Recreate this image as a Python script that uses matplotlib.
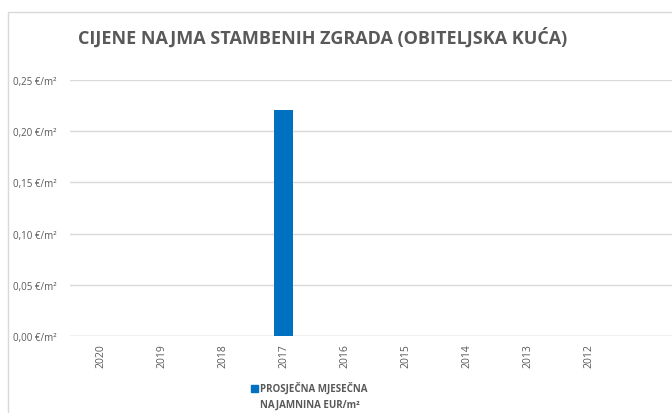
import matplotlib.pyplot as plt
from matplotlib.patches import Rectangle
import numpy as np

# data
years = ['2020', '2019', '2018', '2017', '2016', '2015', '2014', '2013', '2012', '']
rent = [0, 0, 0, 0.221, 0, 0, 0, 0, 0, 0]
yticks = [0, 0.05, 0.10, 0.15, 0.20, 0.25]
series_name = ['PROSJEČNA MJESEČNA', 'NAJAMNINA EUR/m²']
title = 'CIJENE NAJMA STAMBENIH ZGRADA (OBITELJSKA KUĆA)'

W, H = 672, 414
fig = plt.figure(figsize=(W / 100, H / 100), dpi=100)
grey = '#595959'
blue = '#0070C0'
font = ['Open Sans', 'DejaVu Sans']

# outer chart frame (partly cut off on right/bottom)
fig.patches.append(Rectangle((7.5 / W, -0.1), 1.2, (H - 12.5) / H + 0.1,
                             transform=fig.transFigure, fill=False,
                             edgecolor='#D9D9D9', lw=1))

ax = fig.add_axes([70 / W, (H - 337) / H, 610 / W, 256 / H])
x = np.arange(len(years))
ax.bar(x, rent, width=0.31, color=blue, zorder=3)
ax.set_xlim(-0.5, len(years) - 0.5)
ax.set_ylim(0, 0.25)
ax.set_yticks(yticks)
ax.yaxis.grid(True, color='#D9D9D9', lw=1, zorder=0)
for s in ax.spines.values():
    s.set_visible(False)
ax.axhline(0, color='#D9D9D9', lw=1, zorder=2)
ax.tick_params(length=0)
ax.set_xticks(x)
ax.set_xticklabels(years, rotation=90, fontsize=7.5, color=grey, family=font)
ax.set_yticklabels([f'{v:.2f}'.replace('.', ',') + ' €/m²' for v in yticks],
                   fontsize=7, color=grey, family=font)
ax.tick_params(axis='y', pad=9.4)
ax.tick_params(axis='x', pad=5)

fig.text(78 / W, 1 - 38 / H, title, fontsize=13, fontweight='bold',
         color=grey, family=font, va='center')

# legend
fig.patches.append(Rectangle((251 / W, 1 - 393 / H), 7 / W, 7 / H,
                             transform=fig.transFigure, color=blue))
for i, line in enumerate(series_name):
    fig.text(260 / W, 1 - (389 + 16 * i) / H, line, fontsize=7, fontweight='bold',
             color=grey, family=font, va='center')

fig.savefig('out.png', dpi=100)
